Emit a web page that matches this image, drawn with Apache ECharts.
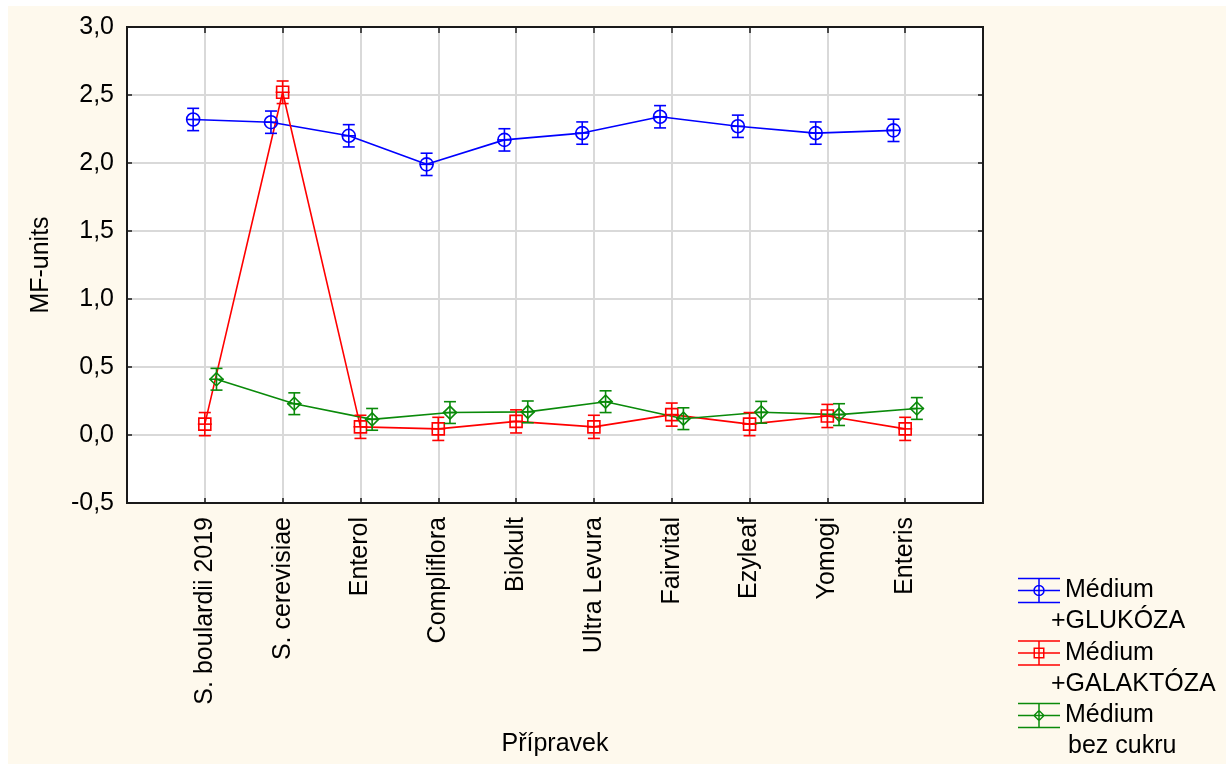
<!DOCTYPE html>
<html>
<head>
<meta charset="utf-8">
<script src="https://cdn.jsdelivr.net/npm/echarts@6/dist/echarts.min.js"></script>
<style>
html,body{margin:0;padding:0;background:#fff;}
#chart{width:1226px;height:764px;}
</style>
</head>
<body>
<div id="chart"></div>
<script>
// ---- data ----
const categories = ['S. boulardii 2019','S. cerevisiae','Enterol','Compliflora','Biokult','Ultra Levura','Fairvital','Ezyleaf','Yomogi','Enteris'];
const yTicks = [-0.5, 0.0, 0.5, 1.0, 1.5, 2.0, 2.5, 3.0];
const seriesNames = ['Médium +GLUKÓZA','Médium +GALAKTÓZA','Médium bez cukru'];
const glukoza = [2.32, 2.30, 2.20, 1.99, 2.17, 2.22, 2.34, 2.27, 2.22, 2.24];
const glukozaErr = [0.082, 0.082, 0.082, 0.082, 0.082, 0.082, 0.082, 0.082, 0.082, 0.082];
const galaktoza = [0.08, 2.52, 0.06, 0.045, 0.10, 0.06, 0.15, 0.08, 0.14, 0.045];
const galaktozaErr = [0.085, 0.083, 0.085, 0.085, 0.085, 0.085, 0.085, 0.085, 0.085, 0.085];
const bezCukru = [0.41, 0.23, 0.115, 0.165, 0.17, 0.245, 0.12, 0.167, 0.15, 0.195];
const bezCukruErr = [0.08, 0.08, 0.08, 0.08, 0.08, 0.08, 0.08, 0.08, 0.08, 0.08];

const colors = ['#0000FF', '#FF0000', '#0A8A0A'];
const offsets = [-0.15, 0, 0.15];
const FONT = 'Liberation Sans, Arial, Helvetica, sans-serif';
const FS = 25;

function pts(vals, off) { return vals.map((v, i) => [i + 1 + off, v]); }
function errPts(vals, errs, off) { return vals.map((v, i) => [i + 1 + off, v, errs[i]]); }

function errRenderer(color) {
  return function (params, api) {
    const x = api.value(0), y = api.value(1), e = api.value(2);
    const p = api.coord([x, y]);
    const hi = api.coord([x, y + e]);
    const lo = api.coord([x, y - e]);
    const cap = 6, half = 7;
    const st = { stroke: color, lineWidth: 1.6, fill: null };
    return {
      type: 'group',
      children: [
        { type: 'line', shape: { x1: p[0], y1: hi[1], x2: p[0], y2: lo[1] }, style: st },
        { type: 'line', shape: { x1: p[0] - cap, y1: hi[1], x2: p[0] + cap, y2: hi[1] }, style: st },
        { type: 'line', shape: { x1: p[0] - cap, y1: lo[1], x2: p[0] + cap, y2: lo[1] }, style: st },
        { type: 'line', shape: { x1: p[0] - half, y1: p[1], x2: p[0] + half, y2: p[1] }, style: st }
      ]
    };
  };
}

// legend icons (42 x 62 box, glyph centred at y = 15.5)
const base = 'M0 0 L0.01 0 L0 0.01 Z M0 62 L0.01 62 L0 61.99 Z ' +
  'M0 2.75 H42 V4.25 H0 Z M0 14.75 H42 V16.25 H0 Z M0 26.75 H42 V28.25 H0 Z M20.25 2.75 H21.75 V28.25 H20.25 Z ';
const iconCircle = 'path://' + base +
  'M26.75 15.5 A5.75 5.75 0 1 1 15.25 15.5 A5.75 5.75 0 1 1 26.75 15.5 Z ' +
  'M25.25 15.5 A4.25 4.25 0 1 0 16.75 15.5 A4.25 4.25 0 1 0 25.25 15.5 Z';
const iconRect = 'path://' + base +
  'M15.5 10 H26.5 V21 H15.5 Z M17 11.5 V19.5 H25 V11.5 Z';
const iconDiamond = 'path://' + base +
  'M21 9.5 L27 15.5 L21 21.5 L15 15.5 Z M21 11.6 L16.9 15.5 L21 19.4 L25.1 15.5 Z';

const symbols = ['circle', 'rect', 'diamond'];
const values = [glukoza, galaktoza, bezCukru];
const errors = [glukozaErr, galaktozaErr, bezCukruErr];
const icons = [iconCircle, iconRect, iconDiamond];

const series = [];
for (let s = 0; s < 3; s++) {
  series.push({
    name: seriesNames[s],
    type: 'line',
    data: pts(values[s], offsets[s]),
    symbol: symbols[s],
    symbolSize: symbols[s] === 'rect' ? 12 : 13,
    showAllSymbol: true,
    lineStyle: { color: colors[s], width: 1.6 },
    itemStyle: { color: 'rgba(255,255,255,0)', borderColor: colors[s], borderWidth: 1.6 },
    emphasis: { disabled: true },
    z: 3
  });
  series.push({
    name: 'err' + s,
    type: 'custom',
    data: errPts(values[s], errors[s], offsets[s]),
    encode: { x: 0, y: 1 },
    renderItem: errRenderer(colors[s]),
    z: 4
  });
}

const axisLineStyle = { color: '#1a1a1a', width: 2 };
const tickStyle = { color: '#1a1a1a', width: 1.5 };

const chart = echarts.init(document.getElementById('chart'), null, { renderer: 'canvas' });
chart.setOption({
  animation: false,
  backgroundColor: '#FEF9ED',
  textStyle: { fontFamily: FONT },
  graphic: [
    { type: 'rect', shape: { x: 0, y: 0, width: 1226, height: 6 }, style: { fill: '#fff' }, z: -10 },
    { type: 'rect', shape: { x: 0, y: 0, width: 8, height: 764 }, style: { fill: '#fff' }, z: -10 }
  ],
  grid: { left: 127, right: 243, top: 27, bottom: 261, show: true, backgroundColor: '#fff', borderColor: '#1a1a1a', borderWidth: 2 },
  xAxis: [
    {
      type: 'value', min: 0, max: 11, interval: 1, position: 'bottom',
      name: 'Přípravek', nameLocation: 'middle', nameGap: 229,
      nameTextStyle: { fontSize: FS, color: '#000', fontFamily: FONT },
      axisLine: { show: true, onZero: false, lineStyle: axisLineStyle },
      axisTick: { show: true, inside: true, length: 5, lineStyle: tickStyle },
      splitLine: { show: true, lineStyle: { color: '#d9d9d9', width: 2 } },
      axisLabel: {
        rotate: 90, margin: 14, fontSize: FS, color: '#000', fontFamily: FONT,
        formatter: v => categories[Math.round(v) - 1] || ''
      }
    },
    {
      type: 'value', min: 0, max: 11, interval: 1, position: 'top',
      axisLine: { show: true, onZero: false, lineStyle: axisLineStyle },
      axisTick: { show: true, inside: true, length: 6, lineStyle: tickStyle },
      splitLine: { show: false }, axisLabel: { show: false }
    }
  ],
  yAxis: [
    {
      type: 'value', min: yTicks[0], max: yTicks[yTicks.length - 1], interval: 0.5,
      name: 'MF-units', nameLocation: 'middle', nameGap: 73,
      nameTextStyle: { fontSize: FS, color: '#000', fontFamily: FONT },
      axisLine: { show: true, onZero: false, lineStyle: axisLineStyle },
      axisTick: { show: true, inside: true, length: 5, lineStyle: tickStyle },
      splitLine: { show: true, lineStyle: { color: '#d9d9d9', width: 2 } },
      axisLabel: { margin: 13, fontSize: FS, color: '#000', fontFamily: FONT, formatter: v => v.toFixed(1).replace('.', ',') }
    },
    {
      type: 'value', min: yTicks[0], max: yTicks[yTicks.length - 1], interval: 0.5, position: 'right',
      axisLine: { show: true, onZero: false, lineStyle: axisLineStyle },
      axisTick: { show: true, inside: true, length: 5, lineStyle: tickStyle },
      splitLine: { show: false }, axisLabel: { show: false }
    }
  ],
  legend: {
    orient: 'vertical', left: 1013, top: 570, height: 400, itemWidth: 42, itemHeight: 62, itemGap: 0.5,
    selectedMode: false,
    data: seriesNames.map((n, i) => ({ name: n, icon: icons[i], itemStyle: { color: colors[i], borderWidth: 0 } })),
    formatter: function (name) {
      const idx = name.indexOf(' ');
      const second = name.slice(idx + 1);
      const key = second.charAt(0) === '+' ? 'b' : 'c';
      return '{a|' + name.slice(0, idx) + '}\n{' + key + '|' + second + '}';
    },
    textStyle: {
      fontSize: FS, color: '#000', fontFamily: FONT, lineHeight: 31,
      rich: {
        a: { fontSize: FS, lineHeight: 31, color: '#000', fontFamily: FONT, padding: [0, 0, 0, 0] },
        b: { fontSize: FS, lineHeight: 31, color: '#000', fontFamily: FONT, padding: [0, 0, 0, -14] },
        c: { fontSize: FS, lineHeight: 31, color: '#000', fontFamily: FONT, padding: [0, 0, 0, 3] }
      }
    }
  },
  series: series
});
</script>
</body>
</html>
